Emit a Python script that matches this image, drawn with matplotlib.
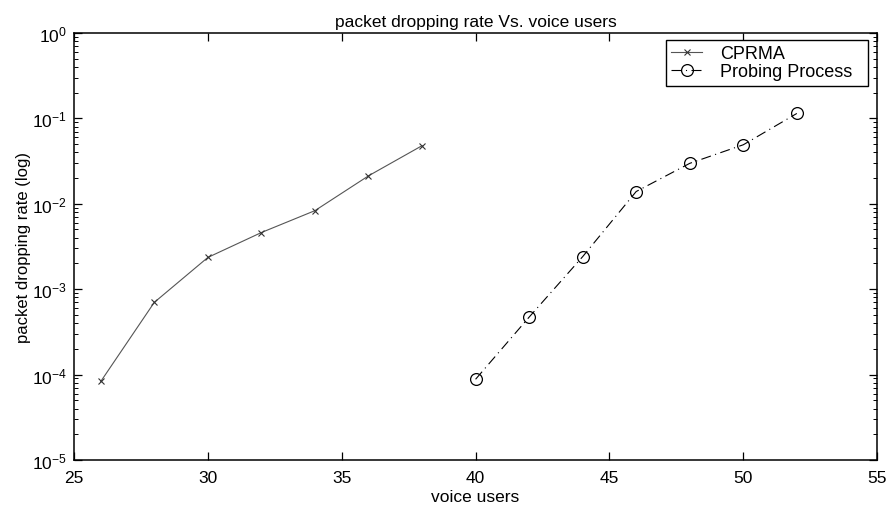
import matplotlib
matplotlib.use("Agg")
import matplotlib.pyplot as plt
from matplotlib.ticker import LogLocator, NullFormatter

plt.rcParams['font.family'] = ['Liberation Sans', 'DejaVu Sans']

# data
cprma_users = [26, 28, 30, 32, 34, 36, 38]
cprma_rate = [8.3e-5, 7.0e-4, 2.35e-3, 4.6e-3, 8.3e-3, 0.0212, 0.0478]

probe_users = [40, 42, 44, 46, 48, 50, 52]
probe_rate = [8.8e-5, 4.7e-4, 2.4e-3, 0.0139, 0.0297, 0.049, 0.114]

fig = plt.figure(figsize=(8.86, 5.06), dpi=100)
ax = fig.add_axes([0.0835, 0.089, 0.9065, 0.844])

ax.plot(cprma_users, cprma_rate, '-', color='#555555', lw=0.8,
        marker='x', ms=5, mew=0.8, mec='#333333', label='CPRMA')
ax.plot(probe_users, probe_rate, linestyle=(0, (9, 4, 1, 4)), color='black', lw=0.8,
        marker='o', ms=8.5, mfc='none', mec='black', mew=0.9, label='Probing Process')

ax.set_yscale('log')
ax.set_xlim(25, 55)
ax.set_ylim(1e-5, 1)
ax.set_xticks([25, 30, 35, 40, 45, 50, 55])
ax.yaxis.set_major_locator(LogLocator(base=10, numticks=10))
ax.yaxis.set_minor_locator(LogLocator(base=10, subs=range(2, 10), numticks=100))
ax.yaxis.set_minor_formatter(NullFormatter())

ax.tick_params(which='both', direction='in', top=True, right=True, labelsize=12.5)
ax.tick_params(which='major', length=6, width=0.9)
ax.tick_params(which='minor', length=3, width=0.7)
ax.tick_params(axis='x', pad=7)
ax.tick_params(axis='y', pad=5)
for s in ax.spines.values():
    s.set_linewidth(1.1)

ax.set_title('packet dropping rate Vs. voice users', fontsize=12.5, pad=5)
ax.set_xlabel('voice users', fontsize=12.5, labelpad=3)
ax.set_ylabel('packet dropping rate (log)', fontsize=12, labelpad=1)

# legend box placed where the original sits, stretched to its width
leg = ax.legend(loc='upper left', bbox_to_anchor=(0.737, 0, 0.2516, 0.9836),
                mode='expand', borderaxespad=0, fontsize=13, fancybox=False,
                framealpha=1, edgecolor='black', handlelength=1.7,
                handletextpad=1.0, borderpad=0.3, labelspacing=0.05)
leg.get_frame().set_linewidth(1.0)

fig.savefig('out.png', dpi=100)
